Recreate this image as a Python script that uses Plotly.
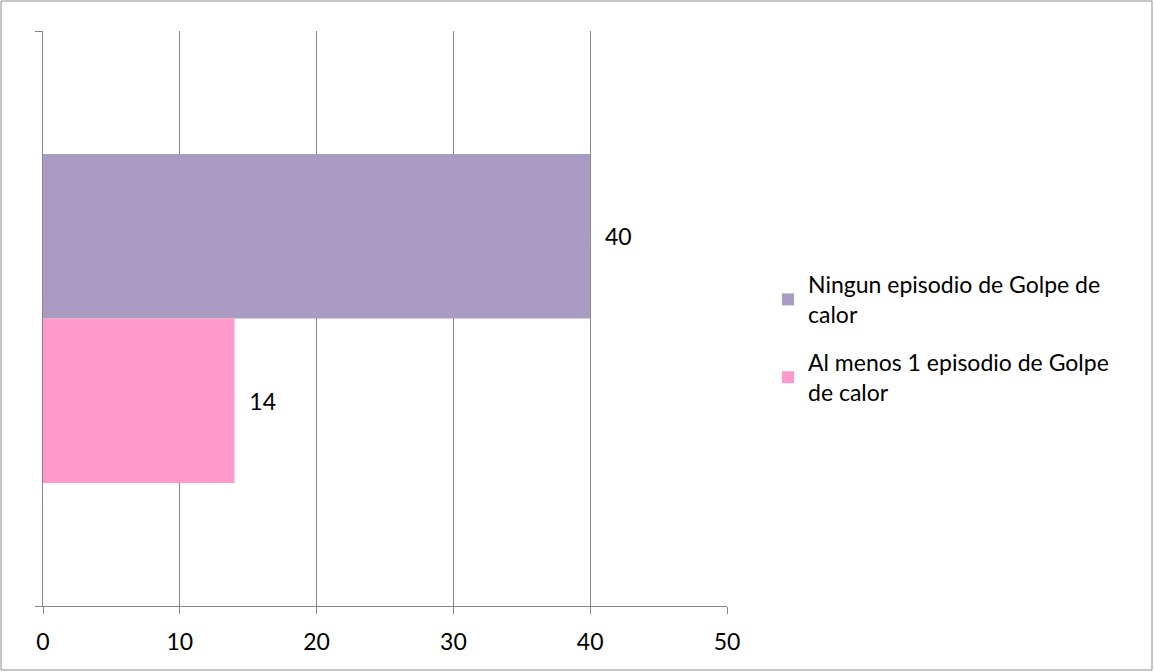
import plotly.graph_objects as go

categories = ["Golpe de calor"]
series_names = ["Ningun episodio de Golpe de<br>calor", "Al menos 1 episodio de Golpe<br>de calor"]
series_values = [[40], [14]]
series_colors = ["#A99BC1", "#FF99CC"]
x_ticks = [0, 10, 20, 30, 40, 50]

W, H = 1154, 672
ML, MR, MT, MB = 43, 427, 31, 66
FONT = dict(family="Lato", size=23, color="#000000")
GRID = "#868686"

fig = go.Figure()
for i, (name, vals, color) in enumerate(zip(series_names, series_values, series_colors)):
    fig.add_trace(go.Bar(
        y=categories,
        x=vals,
        name=name,
        legendgroup=f"g{i}",
        orientation="h",
        marker=dict(color=color, line=dict(width=0)),
        text=[f"  {v}" for v in vals],
        textposition="outside",
        textfont=FONT,
        cliponaxis=False,
    ))

pw = W - ML - MR
ph = H - MT - MB

fig.update_layout(
    width=W,
    height=H,
    margin=dict(l=ML, r=MR, t=MT, b=MB, pad=0),
    paper_bgcolor="white",
    plot_bgcolor="white",
    barmode="group",
    bargap=0.428,
    bargroupgap=0,
    font=FONT,
    showlegend=True,
    legend=dict(
        x=(768 - ML) / pw,
        xanchor="left",
        y=1 - (263 - MT) / ph,
        yanchor="top",
        font=FONT,
        bgcolor="rgba(0,0,0,0)",
        traceorder="grouped",
        tracegroupgap=15,
        itemwidth=30,
    ),
    xaxis=dict(
        range=[0, 50],
        tickvals=x_ticks,
        ticks="outside",
        ticklen=7,
        tickcolor=GRID,
        tickwidth=1.3,
        ticklabelstandoff=8,
        showgrid=True,
        gridcolor=GRID,
        gridwidth=1.3,
        showline=True,
        linecolor=GRID,
        linewidth=1.3,
        zeroline=False,
        tickfont=FONT,
        fixedrange=True,
    ),
    yaxis=dict(
        autorange="reversed",
        tickson="boundaries",
        ticks="outside",
        ticklen=7,
        tickcolor=GRID,
        tickwidth=1.3,
        showticklabels=False,
        showgrid=False,
        showline=True,
        linecolor=GRID,
        linewidth=1.3,
        fixedrange=True,
    ),
    shapes=[dict(
        type="rect",
        xref="paper", yref="paper",
        x0=(1 - ML) / pw, x1=(W - 2 - ML) / pw,
        y0=-(H - 2 - MT - ph) / ph, y1=1 + (MT - 1) / ph,
        line=dict(color="#8C8C8C", width=1),
        fillcolor="rgba(0,0,0,0)",
        layer="below",
    )],
)

fig.write_html("out.html")
